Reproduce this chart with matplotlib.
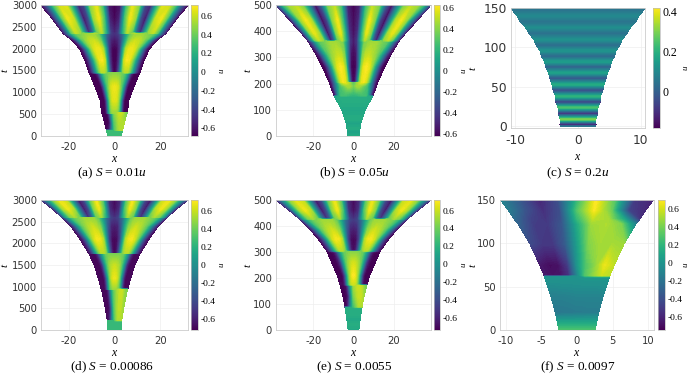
import numpy as np
import matplotlib
matplotlib.use("Agg")
import matplotlib.pyplot as plt

plt.rcParams["axes.unicode_minus"] = False
plt.rcParams["mathtext.fontset"] = "custom"
plt.rcParams["mathtext.rm"] = "Liberation Serif"
plt.rcParams["mathtext.it"] = "Liberation Serif:italic"

# right half of the domain, s = |x| / half width
s_half = np.linspace(0, 1, 13)

# panel a, S = 0.01u
a_t = [0, 130, 135, 300, 525, 530, 820, 1130, 1440, 1450, 1740, 2000, 2200, 2340, 2350, 2360, 2700, 3000]
a_half = [2.9, 3.4, 3.4, 4.2, 5.4, 5.5, 6.2, 8.4, 10.8, 11, 12.8, 15.2, 18.5, 22, 22.2, 22.4, 27.2, 32]
a_right = [
    [.26] * 13,
    [.26] * 13,
    [.3, .35, .38, .42, .45, .48, .5, .52, .55, .55, .55, .55, .55],
    [.35, .38, .42, .46, .5, .52, .55, .55, .55, .55, .55, .55, .55],
    [.45, .5, .52, .55, .58, .6, .6, .58, .55, .5, .45, .42, .4],
    [.5, .5, .48, .42, .3, .1, -.2, -.5, -.65, -.68, -.68, -.68, -.68],
    [.65, .64, .6, .52, .38, .15, -.2, -.5, -.65, -.7, -.7, -.7, -.7],
    [.68, .66, .62, .52, .38, .2, -.1, -.45, -.65, -.7, -.7, -.7, -.7],
    [.45, .45, .44, .42, .38, .3, .15, -.15, -.5, -.65, -.7, -.7, -.7],
    [-.68, -.62, -.35, .1, .45, .55, .55, .42, .2, -.1, -.4, -.6, -.7],
    [-.68, -.66, -.45, .1, .6, .7, .68, .52, .3, .0, -.35, -.6, -.7],
    [-.68, -.66, -.45, .15, .55, .66, .68, .62, .45, .15, -.25, -.6, -.7],
    [-.6, -.55, -.35, .1, .42, .55, .6, .58, .5, .35, .05, -.45, -.7],
    [-.5, -.45, -.2, .15, .42, .5, .5, .48, .45, .4, .22, -.2, -.65],
    [-.5, -.45, -.2, .2, .5, .55, .5, .45, .4, .3, .0, -.4, -.65],
    [-.55, -.42, .2, .55, .38, -.25, -.58, .05, .5, .58, .35, -.25, -.65],
    [-.68, -.55, .3, .68, .5, -.35, -.65, .1, .6, .68, .4, -.2, -.68],
    [-.68, -.6, .3, .65, .45, -.4, -.55, .2, .65, .6, .3, -.3, -.68],
]
a_left = [
    [.26] * 13,
    [.26] * 13,
    [.3, .2, .1, .0, -.1, -.25, -.4, -.5, -.6, -.65, -.68, -.68, -.68],
    [.35, .25, .1, -.1, -.3, -.5, -.62, -.68, -.68, -.68, -.68, -.68, -.68],
    [.45, .35, .2, .0, -.2, -.45, -.6, -.68, -.68, -.68, -.68, -.68, -.68],
]

# panel b, S = 0.05u
b_t = [0, 15, 30, 47, 65, 98, 125, 150, 156, 190, 202, 206, 265, 310, 360, 365, 393, 444, 500]
b_half = [2.8, 3, 3.2, 3.5, 4.2, 5.7, 7.5, 9.4, 9.7, 11.4, 11.9, 12.1, 15.5, 18.5, 22.5, 22.9, 26, 32, 38.5]
b_right = [
    [.14] * 13,
    [.08] * 13,
    [.15] * 13,
    [.09] * 13,
    [.15] * 13,
    [.12] * 13,
    [.15] * 13,
    [.16, .16, .16, .16, .16, .16, .16, .16, .16, .15, .14, .12, .08],
    [.2, .2, .2, .22, .24, .25, .25, .26, .22, .08, -.2, -.5, -.6],
    [.35, .4, .45, .45, .4, .35, .3, .25, .1, -.1, -.3, -.55, -.62],
    [.3, .35, .45, .5, .55, .5, .45, .3, .1, -.1, -.35, -.55, -.62],
    [-.6, -.55, -.1, .38, .58, .6, .55, .4, .2, -.1, -.35, -.55, -.62],
    [-.62, -.6, -.25, .38, .58, .62, .58, .45, .2, -.1, -.4, -.6, -.62],
    [-.6, -.55, -.1, .38, .5, .52, .48, .42, .3, .1, -.2, -.5, -.62],
    [-.55, -.42, .05, .38, .42, .45, .45, .4, .35, .3, .1, -.3, -.6],
    [-.55, -.42, .15, .48, .35, -.25, -.58, -.05, .42, .5, .35, -.1, -.6],
    [-.58, -.45, .2, .58, .38, -.32, -.62, -.05, .45, .58, .42, -.1, -.62],
    [-.6, -.48, .22, .6, .38, -.38, -.62, -.05, .48, .6, .42, -.1, -.62],
    [-.62, -.5, .25, .5, .38, -.25, -.62, -.05, .38, .5, .45, .2, -.45],
]

# panel c, S = 0.2u, bands do not depend on x
c_t = [0, 2.5, 9, 16.5, 24, 31, 38, 46, 53, 61, 68, 75.5, 82, 89, 96, 103, 110, 118, 125, 132.6, 140, 147.7, 150]
c_half = [2.75, 2.85, 2.8, 3.1, 3.15, 3.5, 3.55, 3.95, 4.1, 4.45, 4.65, 5.1, 5.3, 5.8, 6.05, 6.65, 7, 7.8, 8.3, 9.2, 9.7, 10.5, 10.65]
c_u = [.05, -.18, .3, -.13, .25, -.1, .21, -.07, .19, -.04, .16, -.01, .15, .01, .13, .02, .12, .03, .11, .04, .10, .04, .06]

# panel d, S = 0.00086
d_t = [0, 210, 215, 500, 940, 945, 1200, 1500, 1760, 1765, 2100, 2400, 2590, 2600, 2800, 3000]
d_half = [2.8, 3, 3.05, 3.9, 5.6, 5.7, 7, 8.8, 11, 11.1, 15, 19, 22.6, 22.9, 27, 32]
d_right = [
    [.24] * 13,
    [.24] * 13,
    [.3, .35, .4, .45, .5, .5, .55, .55, .55, .55, .55, .55, .55],
    [.35, .4, .45, .5, .52, .55, .58, .58, .58, .55, .52, .5, .5],
    [.4, .45, .5, .55, .55, .6, .6, .6, .55, .5, .45, .45, .45],
    [.5, .5, .45, .4, .3, .1, -.2, -.5, -.65, -.7, -.7, -.7, -.7],
    [.68, .65, .6, .48, .28, -.02, -.35, -.6, -.7, -.7, -.7, -.7, -.7],
    [.6, .58, .55, .48, .35, .15, -.15, -.5, -.65, -.7, -.7, -.7, -.7],
    [.42, .42, .42, .42, .38, .25, .05, -.25, -.55, -.68, -.7, -.7, -.7],
    [-.7, -.65, -.35, .1, .45, .55, .55, .42, .2, -.1, -.4, -.6, -.7],
    [-.7, -.68, -.45, .1, .55, .68, .7, .62, .42, .12, -.3, -.6, -.7],
    [-.62, -.58, -.3, .15, .45, .55, .6, .56, .47, .32, .02, -.4, -.7],
    [-.5, -.45, -.2, .15, .4, .5, .5, .5, .45, .4, .25, -.1, -.65],
    [-.55, -.45, .15, .5, .4, -.25, -.58, -.15, .38, .52, .42, .1, -.6],
    [-.68, -.55, .3, .68, .45, -.4, -.68, -.1, .55, .68, .52, .05, -.65],
    [-.7, -.55, .35, .7, .35, -.45, -.68, .0, .6, .68, .45, -.05, -.6],
]
d_left = [
    [.24] * 13,
    [.24] * 13,
    [.3, .2, .1, .0, -.1, -.25, -.4, -.5, -.6, -.65, -.68, -.68, -.68],
    [.35, .25, .1, -.1, -.3, -.5, -.62, -.68, -.7, -.7, -.7, -.7, -.7],
    [.4, .3, .2, .0, -.2, -.45, -.6, -.68, -.7, -.7, -.7, -.7, -.7],
]

# panel e, S = 0.0055
e_t = [0, 20, 40, 60, 85, 90, 130, 170, 175, 210, 260, 300, 305, 350, 390, 424, 428, 460, 500]
e_half = [2.6, 2.9, 3.2, 3.6, 4.1, 4.2, 5.2, 6.5, 6.7, 8, 10.8, 13, 13.3, 17.5, 22, 26.5, 27, 32, 38.5]
e_right = [
    [.13] * 13,
    [.17] * 13,
    [.13] * 13,
    [.17] * 13,
    [.17] * 13,
    [.28, .3, .34, .38, .42, .45, .5, .52, .55, .55, .55, .55, .55],
    [.4, .45, .48, .52, .55, .58, .6, .6, .6, .58, .55, .52, .5],
    [.5, .52, .55, .58, .6, .6, .6, .58, .55, .5, .45, .4, .4],
    [.6, .6, .55, .45, .3, .1, -.2, -.5, -.65, -.72, -.72, -.72, -.72],
    [.72, .68, .6, .48, .28, -.02, -.35, -.6, -.72, -.74, -.74, -.74, -.74],
    [.62, .6, .55, .48, .35, .15, -.15, -.5, -.65, -.72, -.74, -.74, -.74],
    [.45, .45, .44, .42, .38, .25, .05, -.25, -.55, -.7, -.74, -.74, -.74],
    [-.7, -.65, -.35, .1, .45, .55, .55, .42, .2, -.1, -.4, -.6, -.74],
    [-.72, -.7, -.45, .1, .55, .68, .7, .62, .42, .12, -.3, -.6, -.74],
    [-.62, -.58, -.3, .15, .45, .55, .6, .56, .47, .32, .02, -.4, -.72],
    [-.5, -.45, -.2, .15, .4, .5, .5, .5, .45, .4, .25, -.1, -.68],
    [-.55, -.45, .15, .5, .4, -.25, -.58, -.15, .38, .52, .42, .1, -.6],
    [-.7, -.55, .3, .68, .45, -.4, -.7, -.1, .55, .68, .52, .05, -.65],
    [-.72, -.55, .35, .68, .35, -.45, -.7, .0, .6, .65, .45, -.05, -.6],
]
e_left = [
    [.13] * 13,
    [.17] * 13,
    [.13] * 13,
    [.17] * 13,
    [.17] * 13,
    [.28, .2, .1, .0, -.1, -.25, -.4, -.55, -.65, -.7, -.72, -.72, -.72],
    [.35, .25, .1, -.1, -.3, -.5, -.62, -.7, -.72, -.74, -.74, -.74, -.74],
    [.45, .3, .2, .0, -.2, -.45, -.6, -.7, -.72, -.74, -.74, -.74, -.74],
]

# panel f, S = 0.0097, not symmetric so whole width
f_s = [-1, -.75, -.5, -.25, 0, .25, .5, .75, 1]
f_t = [0, 8, 20, 38, 50, 61, 63, 75, 100, 122, 128, 138, 150]
f_half = [2.5, 2.7, 3, 3.6, 4.1, 4.55, 4.6, 5.2, 6.6, 8.2, 8.8, 9.6, 10.7]
f_u = [
    [.28, .28, .28, .28, .28, .28, .28, .28, .28],
    [.12, .12, .12, .12, .12, .12, .12, .12, .12],
    [-.17, -.17, -.16, -.16, -.15, -.15, -.14, -.14, -.14],
    [-.12, -.12, -.12, -.11, -.1, -.1, -.1, -.1, -.1],
    [-.06, -.06, -.05, -.05, -.04, -.04, -.04, -.04, -.03],
    [.0, .0, .0, .0, .0, .02, .02, .02, .02],
    [-.65, -.68, -.66, -.55, -.1, .3, .45, .58, .55],
    [-.65, -.7, -.68, -.5, .0, .3, .45, .65, .55],
    [-.42, -.5, -.5, -.33, .05, .42, .5, .5, .48],
    [-.3, -.48, -.5, -.35, .12, .48, .52, .42, -.1],
    [-.25, -.45, -.52, -.38, .2, .55, .5, .1, -.55],
    [-.15, -.38, -.55, -.4, .3, .68, .38, -.45, -.58],
    [-.1, -.35, -.6, -.4, .2, .7, .3, -.5, -.6],
]

panel_names = ["a", "b", "c", "d", "e", "f"]
captions = [r"(a) $S$ = 0.01$u$", r"(b) $S$ = 0.05$u$", r"(c) $S$ = 0.2$u$",
            r"(d) $S$ = 0.00086", r"(e) $S$ = 0.0055", r"(f) $S$ = 0.0097"]

cbar_ticks_wide = [-.6, -.4, -.2, 0, .2, .4, .6]
cbar_labels_wide = ["-0.6", "-0.4", "-0.2", "0", "0.2", "0.4", "0.6"]
cbar_ticks_c = [0, .2, .4]
cbar_labels_c = ["0", "0.2", "0.4"]

W, H = 690, 374


def box(left, top, right, bottom):
    return [left / W, 1 - bottom / H, (right - left) / W, (bottom - top) / H]


def whole_rows(u_right, u_left=None):
    # mirror the right half, with the odd left rows at the bottom of the panel
    right = np.array(u_right, dtype=float)
    left = right.copy()
    if u_left is not None:
        left[:len(u_left)] = np.array(u_left, dtype=float)
    return np.hstack([left[:, :0:-1], right])


def draw_panel(ax, t, half, s, u, lims):
    t = np.array(t, dtype=float)
    half = np.array(half, dtype=float)
    s = np.array(s, dtype=float)
    X = np.outer(half, s)
    T = np.repeat(t[:, None], len(s), axis=1)
    levels = np.linspace(lims[0], lims[1], 90)
    cs = ax.contourf(X, T, u, levels=levels, cmap="viridis", extend="both")
    cs.set_edgecolor("face")
    cs.set_linewidth(0.25)


s_full = np.concatenate([-s_half[:0:-1], s_half])

panels = {
    "a": dict(t=a_t, half=a_half, s=s_full, u=whole_rows(a_right, a_left), lims=(-.68, .714),
              rect=(41, 5, 188, 136), bar=(191, 198), xlim=(-32, 32), ylim=(0, 3000),
              xticks=[-20, 0, 20], yticks=[0, 500, 1000, 1500, 2000, 2500, 3000],
              ulabel=222, tlabel=4, xlabel_y=158, cap_x=112, cap_y=173, size=7.2, bar_size=6.8),
    "b": dict(t=b_t, half=b_half, s=s_full, u=whole_rows(b_right), lims=(-.618, .627),
              rect=(276, 5, 431, 136), bar=(434, 440), xlim=(-38.7, 38.7), ylim=(0, 500),
              xticks=[-20, 0, 20], yticks=[0, 100, 200, 300, 400, 500],
              ulabel=464, tlabel=247, xlabel_y=158, cap_x=354, cap_y=173, size=7.2, bar_size=6.8),
    "c": dict(t=c_t, half=c_half, s=[-1, 1], u=np.column_stack([c_u, c_u]), lims=(-.18, .42),
              rect=(511, 8, 645, 128), bar=(653, 660), xlim=(-10.7, 10.7), ylim=(-2, 150),
              xticks=[-10, 0, 10], yticks=[0, 50, 100, 150],
              ulabel=685, tlabel=473, xlabel_y=157, cap_x=578, cap_y=173, size=8.8, bar_size=8.5),
    "d": dict(t=d_t, half=d_half, s=s_full, u=whole_rows(d_right, d_left), lims=(-.72, .72),
              rect=(41, 200, 188, 330), bar=(191, 198), xlim=(-32, 32), ylim=(0, 3000),
              xticks=[-20, 0, 20], yticks=[0, 500, 1000, 1500, 2000, 2500, 3000],
              ulabel=222, tlabel=4, xlabel_y=353, cap_x=112, cap_y=367, size=7.2, bar_size=6.8),
    "e": dict(t=e_t, half=e_half, s=s_full, u=whole_rows(e_right, e_left), lims=(-.74, .72),
              rect=(276, 200, 431, 330), bar=(434, 440), xlim=(-38.7, 38.7), ylim=(0, 500),
              xticks=[-20, 0, 20], yticks=[0, 100, 200, 300, 400, 500],
              ulabel=463, tlabel=247, xlabel_y=353, cap_x=354, cap_y=367, size=7.2, bar_size=6.8),
    "f": dict(t=f_t, half=f_half, s=f_s, u=np.array(f_u), lims=(-.74, .695),
              rect=(500, 200, 654, 330), bar=(658, 665), xlim=(-10.8, 10.8), ylim=(0, 150),
              xticks=[-10, -5, 0, 5, 10], yticks=[0, 50, 100, 150],
              ulabel=685, tlabel=473, xlabel_y=353, cap_x=578, cap_y=367, size=7.2, bar_size=6.8),
}

fig = plt.figure(figsize=(W / 100, H / 100), dpi=100)

for name, caption in zip(panel_names, captions):
    p = panels[name]
    left, top, right, bottom = p["rect"]
    ax = fig.add_axes(box(left, top, right, bottom))
    draw_panel(ax, p["t"], p["half"], p["s"], p["u"], p["lims"])
    ax.set_xlim(p["xlim"])
    ax.set_ylim(p["ylim"])
    ax.set_xticks(p["xticks"])
    ax.set_yticks(p["yticks"])
    ax.tick_params(labelsize=p["size"], length=0, labelcolor="#333333")
    ax.tick_params(axis="x", pad=4)
    ax.tick_params(axis="y", pad=3)
    ax.grid(color="#eeeeee", linewidth=0.5)
    ax.set_axisbelow(True)
    for spine in ax.spines.values():
        spine.set_color("#cccccc")
        spine.set_linewidth(0.6)

    cax = fig.add_axes(box(p["bar"][0], top, p["bar"][1], bottom))
    sm = plt.cm.ScalarMappable(norm=plt.Normalize(*p["lims"]), cmap="viridis")
    cb = fig.colorbar(sm, cax=cax)
    if name == "c":
        cb.set_ticks(cbar_ticks_c, labels=cbar_labels_c)
    else:
        cb.set_ticks(cbar_ticks_wide, labels=cbar_labels_wide)
    cb.ax.tick_params(length=0, pad=2, labelsize=p["bar_size"])
    for lab in cb.ax.get_yticklabels():
        lab.set_family("Liberation Serif")
    cb.outline.set_edgecolor("#bbbbbb")
    cb.outline.set_linewidth(0.5)

    mid_y = (top + bottom) / 2
    fig.text(p["ulabel"] / W, 1 - mid_y / H, r"$u$", rotation=90, ha="center", va="center", fontsize=6.5)
    fig.text(p["tlabel"] / W, 1 - mid_y / H, r"$t$", rotation=90, ha="center", va="center", fontsize=8)
    fig.text((left + right) / 2 / W, 1 - p["xlabel_y"] / H, r"$x$", ha="center", va="center", fontsize=8.5)
    fig.text(p["cap_x"] / W, 1 - p["cap_y"] / H, caption, ha="center", va="center",
             fontsize=9.5, family="Liberation Serif")

fig.savefig("out.png", dpi=100)
